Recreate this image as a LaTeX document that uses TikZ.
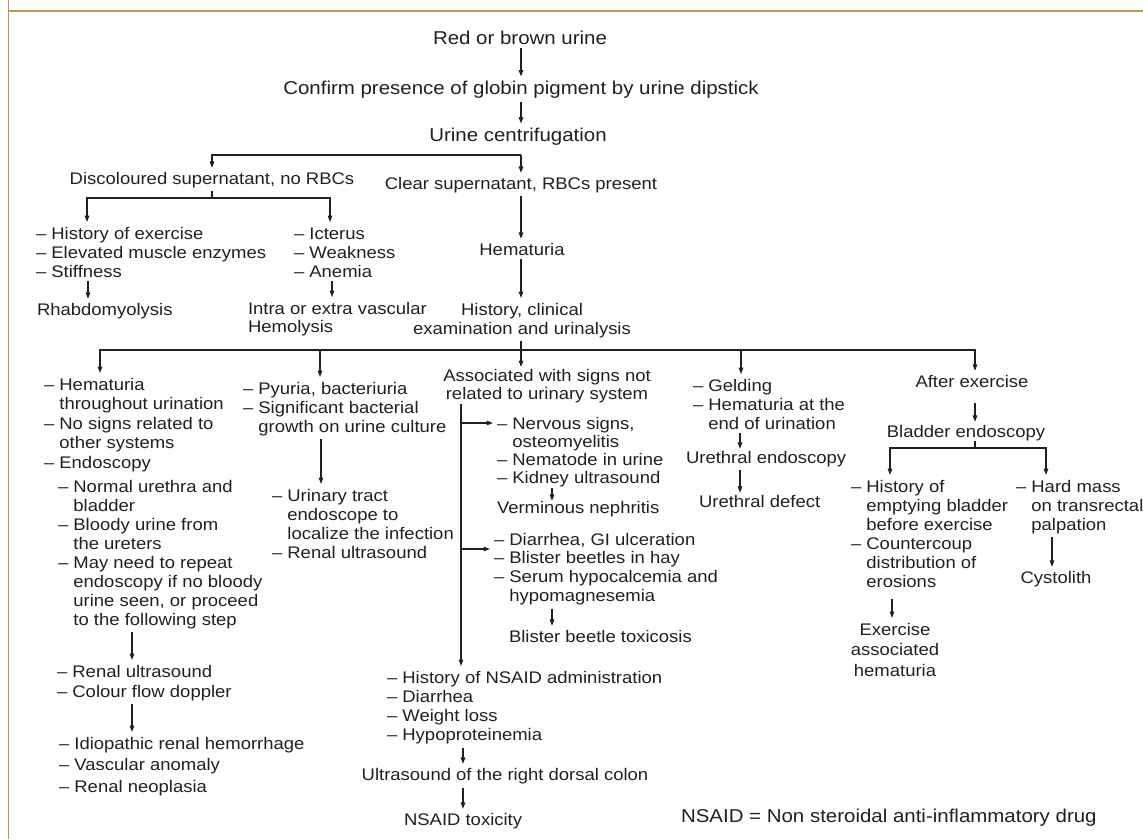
\documentclass[tikz,border=0pt]{standalone}
\usepackage{fontspec}
\setmainfont{Liberation Sans}[FakeStretch=1.1]
\usetikzlibrary{arrows.meta}
\definecolor{ink}{HTML}{231F20}
\definecolor{framecol}{HTML}{C4963E}
\newcommand\hind{\phantom{– }}
\newcommand\fst{\rule{0pt}{13pt}}
\begin{document}
\begin{tikzpicture}[x=1pt,y=-1pt,
 txt/.style={inner sep=0pt,outer sep=4pt,text=ink,font=\fontsize{16.8}{19}\selectfont},
 big/.style={txt,font=\fontsize{18.6}{21}\selectfont},
 lst/.style={txt,align=left,anchor=north west},
 arr/.style={draw=ink,line width=1.1pt,-{Triangle[length=6.5pt,width=4.6pt]}},
 ln/.style={draw=ink,line width=1.1pt}]
\useasboundingbox (0,0) rectangle (1143,839);
\draw[framecol,line width=1.8pt] (8,11) -- (1143,11);
\draw[framecol,line width=1pt] (8,0) -- (8,839);

% top
\node[big,anchor=base] (n1) at (520,44) {Red or brown urine};
\node[big,anchor=base] (n2) at (521,94) {Confirm presence of globin pigment by urine dipstick};
\node[big,anchor=base] (n3) at (518,141) {Urine centrifugation};
\draw[arr] (n1.south -| 521,0) -- (n2.north -| 521,0);
\draw[arr] (n2.south -| 521,0) -- (n3.north -| 521,0);

\coordinate (j1) at (521,155);
\node[txt,anchor=base] (disc) at (212,184) {Discoloured supernatant, no RBCs};
\node[txt,anchor=base] (clr) at (521,189) {Clear supernatant, RBCs present};
\draw[arr] (j1) -| (disc.north);
\draw[arr] (j1) -- (clr.north);

% discoloured branch
\coordinate (j2) at (212,198);
\node[lst] (l1) at (32,222) {\fst– History of exercise\\– Elevated muscle enzymes\\– Stiffness};
\node[lst] (l2) at (290,222) {\fst– Icterus\\– Weakness\\– Anemia};
\node[txt,anchor=base west] (rh) at (33,315) {Rhabdomyolysis};
\node[lst,font=\fontsize{16.8}{18}\selectfont] (hem) at (244,297) {\fst Intra or extra vascular\\Hemolysis};
\draw[ln] (disc.south) -- (j2);
\draw[arr] (j2) -| (l1.north -| 87,0);
\draw[arr] (j2) -| (l2.north -| 330,0);
\draw[arr] (l1.south -| 88,0) -- (rh.north -| 88,0);
\draw[arr] (l2.south -| 332,0) -- (hem.north -| 332,0);

% clear branch
\node[txt,anchor=base] (hmt) at (522,255) {Hematuria};
\draw[arr] (clr.south -| 521,0) -- (hmt.north -| 521,0);
\node[txt,align=center,anchor=north] (hist) at (522,298) {\fst History, clinical\\examination and urinalysis};
\draw[arr] (hmt.south -| 521,0) -- (hist.north -| 521,0);
\coordinate (j3) at (521,350);
\draw[ln] (hist.south -| 521,0) -- (j3);

% branch 1
\node[lst,font=\fontsize{16.8}{19.5}\selectfont] (b1) at (40,373) {\fst– Hematuria\\\hind throughout urination\\– No signs related to\\\hind other systems\\– Endoscopy};
\node[lst] (b1s) at (54,475) {\fst– Normal urethra and\\\hind bladder\\– Bloody urine from\\\hind the ureters\\– May need to repeat\\\hind endoscopy if no bloody\\\hind urine seen, or proceed\\\hind to the following step};
\node[lst,font=\fontsize{16.8}{20}\selectfont] (b1r) at (53,660) {\fst– Renal ultrasound\\– Colour flow doppler};
\node[lst,font=\fontsize{16.8}{21.5}\selectfont] (b1f) at (55,732) {\fst– Idiopathic renal hemorrhage\\– Vascular anomaly\\– Renal neoplasia};
\draw[arr] (b1s.south -| 132,0) -- (b1r.north -| 132,0);
\draw[arr] (b1r.south -| 132,0) -- (b1f.north -| 132,0);

% branch 2
\node[lst] (b2) at (239,377) {\fst– Pyuria, bacteriuria\\– Significant bacterial\\\hind growth on urine culture};
\node[lst] (b2r) at (268,484) {\fst– Urinary tract\\\hind endoscope to\\\hind localize the infection\\– Renal ultrasound};
\draw[arr] (b2.south -| 321,0) -- (b2r.north -| 321,0);

% branch 3
\node[txt,align=center,anchor=north,outer sep=1pt,font=\fontsize{16.8}{18.5}\selectfont] (b3) at (547,367) {\fst Associated with signs not\\related to urinary system};
\coordinate (v1) at (461,423);
\coordinate (v2) at (461,549);
\node[lst,font=\fontsize{16.8}{18.2}\selectfont] (b3a) at (493,412) {\fst– Nervous signs,\\\hind osteomyelitis\\– Nematode in urine\\– Kidney ultrasound};
\node[txt,anchor=base west] (vn) at (493,513) {Verminous nephritis};
\node[lst,font=\fontsize{16.8}{18.7}\selectfont] (b3b) at (490,528) {\fst– Diarrhea, GI ulceration\\– Blister beetles in hay\\– Serum hypocalcemia and\\\hind hypomagnesemia};
\node[txt,anchor=base west] (bb) at (505,642) {Blister beetle toxicosis};
\node[lst,font=\fontsize{16.8}{19.3}\selectfont] (b3c) at (383,666) {\fst– History of NSAID administration\\– Diarrhea\\– Weight loss\\– Hypoproteinemia};
\node[txt,anchor=base] (us) at (505,780) {Ultrasound of the right dorsal colon};
\node[txt,anchor=base west] (nt) at (400,825) {NSAID toxicity};
\draw[arr] (b3.south -| 461,0) -- (b3c.north -| 461,0);
\draw[arr] (v1) -- (v1 -| b3a.west);
\draw[arr] (v2) -- (v2 -| b3b.west);
\draw[arr,shorten <=-3pt,shorten >=-4pt] (b3a.south -| 552,0) -- (vn.north -| 552,0);
\draw[arr] (b3b.south -| 552,0) -- (bb.north -| 552,0);
\draw[arr] (b3c.south -| 463,0) -- (us.north -| 463,0);
\draw[arr] (us.south -| 463,0) -- (nt.north -| 463,0);

% branch 4
\node[lst] (b4) at (689,374) {\fst– Gelding\\– Hematuria at the\\\hind end of urination};
\node[txt,anchor=base west] (ue) at (682,463) {Urethral endoscopy};
\node[txt,anchor=base west] (ud) at (695,507) {Urethral defect};
\draw[arr,shorten >=-2pt] (b4.south -| 740,0) -- (ue.north -| 740,0);
\draw[arr,shorten >=-2pt] (ue.south -| 740,0) -- (ud.north -| 740,0);

% branch 5
\node[txt,anchor=base] (b5) at (972,387) {After exercise};
\node[txt,anchor=base,outer sep=1pt] (be) at (966,437) {Bladder endoscopy};
\draw[arr,shorten <=12pt,shorten >=2pt] (b5.south -| 975,0) -- (be.north -| 975,0);
\coordinate (j4) at (975,448);
\draw[ln] (be.south -| 975,0) -- (j4);
\node[lst] (b5a) at (847,475) {\fst– History of\\\hind emptying bladder\\\hind before exercise\\– Countercoup\\\hind distribution of\\\hind erosions};
\node[lst] (b5b) at (1012,475) {\fst– Hard mass\\\hind on transrectal\\\hind palpation};
\draw[arr] (j4) -| (b5a.north -| 890,0);
\draw[arr] (j4) -| (b5b.north -| 1046,0);
\node[txt,align=center,anchor=north,font=\fontsize{16.8}{20.5}\selectfont] (ea) at (895,618) {\fst Exercise\\associated\\hematuria};
\draw[arr,shorten <=8pt] (b5a.south -| 892,0) -- (ea.north -| 892,0);
\node[txt,anchor=base] (cy) at (1056,583) {Cystolith};
\draw[arr] (b5b.south -| 1052,0) -- (cy.north -| 1052,0);

% main branching
\draw[arr] (j3) -| (b1.north -| 100,0);
\draw[arr] (j3) -| (b2.north -| 320,0);
\draw[arr] (j3) -- (b3.north -| 521,0);
\draw[arr] (j3) -| (b4.north -| 741,0);
\draw[arr] (j3) -| (b5.north -| 975,0);

\node[big,anchor=base west] (fn) at (677,822) {NSAID = Non steroidal anti-inflammatory drug};
\end{tikzpicture}
\end{document}
